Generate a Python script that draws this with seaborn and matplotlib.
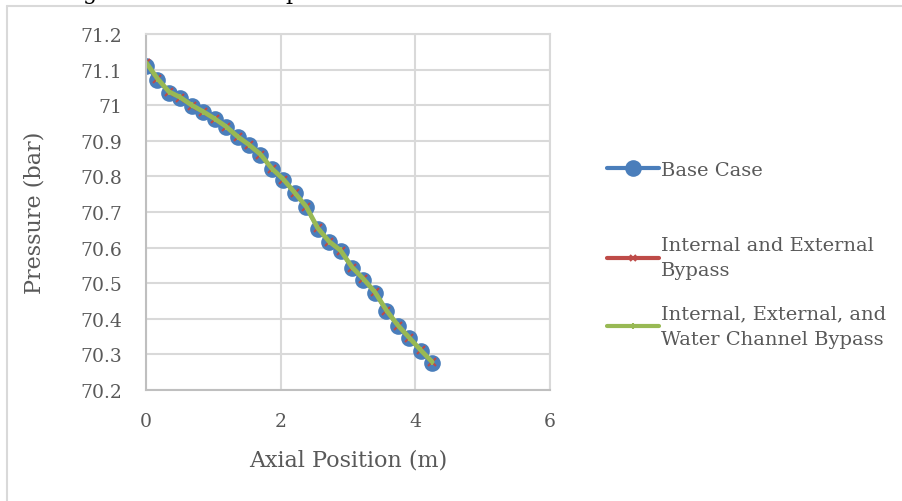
#!/usr/bin/env python3

import pandas as pd
import matplotlib
matplotlib.use("Agg")
import matplotlib.pyplot as plt
import seaborn as sns
from matplotlib.lines import Line2D
from matplotlib.ticker import FuncFormatter

# Axial positions (m)
axial_pos = [0.00, 0.17, 0.34, 0.51, 0.68, 0.85, 1.02, 1.19, 1.36, 1.53, 1.70, 1.87, 2.04,
             2.21, 2.38, 2.55, 2.72, 2.89, 3.06, 3.23, 3.40, 3.57, 3.74, 3.91, 4.08, 4.25]

# Pressure (bar)
base_case = [71.110, 71.071, 71.035, 71.020, 70.998, 70.980, 70.960, 70.938, 70.910,
             70.887, 70.860, 70.820, 70.790, 70.752, 70.713, 70.653, 70.615, 70.590,
             70.543, 70.510, 70.473, 70.422, 70.380, 70.345, 70.310, 70.277]
int_ext_bypass = [71.118, 71.074, 71.037, 71.021, 70.999, 70.981, 70.961, 70.939, 70.911,
                  70.888, 70.861, 70.821, 70.791, 70.753, 70.714, 70.654, 70.616, 70.591,
                  70.544, 70.511, 70.474, 70.423, 70.381, 70.346, 70.311, 70.278]
int_ext_water_bypass = [71.120, 71.075, 71.038, 71.022, 71.000, 70.982, 70.962, 70.940, 70.912,
                        70.889, 70.862, 70.822, 70.792, 70.754, 70.715, 70.655, 70.617, 70.592,
                        70.545, 70.512, 70.475, 70.424, 70.382, 70.347, 70.312, 70.279]

series_labels = ["Base Case", "Internal and External\nBypass",
                 "Internal, External, and\nWater Channel Bypass"]

x_ticks = [0, 2, 4, 6]
y_ticks = [70.2, 70.3, 70.4, 70.5, 70.6, 70.7, 70.8, 70.9, 71.0, 71.1, 71.2]

if __name__ == "__main__":

    sns.set_style("white")
    plt.rcParams["font.family"] = ["DejaVu Serif", "DejaVu Sans"]

    text_gray = "#595959"
    grid_gray = "#D9D9D9"
    colors = ["#4A7EBB", "#BE4B48", "#98B954"]

    df = pd.DataFrame({
        "x": axial_pos * 3,
        "y": base_case + int_ext_bypass + int_ext_water_bypass,
        "series": [series_labels[0]] * len(axial_pos)
        + [series_labels[1]] * len(axial_pos)
        + [series_labels[2]] * len(axial_pos),
    })

    fig = plt.figure(figsize=(9.02, 5.02), dpi=100)
    ax = fig.add_axes([146 / 902, 1 - 391 / 502, 404 / 902, 356 / 502])

    styles = [
        dict(marker="o", markersize=12, linewidth=2.4, markeredgewidth=0),
        dict(marker="x", markersize=5.5, linewidth=2.4, markeredgewidth=1.5),
        dict(marker="|", markersize=4, linewidth=3.4, markeredgewidth=1.5),
    ]
    for label, color, st in zip(series_labels, colors, styles):
        sub = df[df["series"] == label]
        sns.lineplot(data=sub, x="x", y="y", ax=ax, color=color, sort=False,
                     estimator=None, markeredgecolor=color, markerfacecolor=color,
                     legend=False, **st)

    ax.set_xlim(0, 6)
    ax.set_ylim(70.2, 71.2)
    ax.set_xticks(x_ticks)
    ax.set_yticks(y_ticks)
    ax.yaxis.set_major_formatter(FuncFormatter(lambda v, p: f"{v:g}"))
    ax.grid(True, color=grid_gray, linewidth=1.5)
    ax.set_axisbelow(True)
    for s in ax.spines.values():
        s.set_color(grid_gray)
        s.set_linewidth(1.5)
    ax.spines["left"].set_color("#BFBFBF")
    ax.spines["bottom"].set_color("#BFBFBF")
    ax.tick_params(length=0, labelsize=13.5, colors=text_gray, pad=16)
    ax.tick_params(axis="y", pad=17)

    ax.set_xlabel("Axial Position (m)", fontsize=16, color=text_gray, labelpad=13)
    ax.set_ylabel("Pressure (bar)", fontsize=16, color=text_gray, labelpad=25)

    handles = [
        Line2D([0], [0], color=colors[0], lw=3, marker="o", markersize=12, markeredgewidth=0),
        Line2D([0], [0], color=colors[1], lw=3, marker="x", markersize=5, markeredgewidth=1.5),
        Line2D([0], [0], color=colors[2], lw=3, marker="|", markersize=4, markeredgewidth=1.5),
    ]
    leg_kw = dict(loc="center left", bbox_transform=fig.transFigure, frameon=False,
                  fontsize=14, handlelength=2.7, handletextpad=0.1, borderpad=0)

    leg1 = ax.legend(handles=handles[:1], labels=series_labels[:1],
                     bbox_to_anchor=(597 / 902, 1 - 171 / 502), **leg_kw)
    for t in leg1.get_texts():
        t.set_color(text_gray)
    ax.add_artist(leg1)

    leg2 = ax.legend(handles=handles[1:], labels=series_labels[1:],
                     bbox_to_anchor=(597 / 902, 1 - 293 / 502), labelspacing=1.3, **leg_kw)
    for t in leg2.get_texts():
        t.set_color(text_gray)
        t.set_linespacing(1.5)

    # chart frame (left and top edges visible)
    fig.add_artist(Line2D([6.5 / 902, 6.5 / 902], [0, 1 - 7 / 502], transform=fig.transFigure,
                          color=grid_gray, lw=1.5))
    fig.add_artist(Line2D([6.5 / 902, 1], [1 - 7 / 502, 1 - 7 / 502], transform=fig.transFigure,
                          color=grid_gray, lw=1.5))

    # cut-off caption glyphs from the page above
    fig.text(90 / 902, 1 + 1 / 502, "g", fontsize=16, color="black", ha="center", va="baseline")
    fig.text(292 / 902, 1 + 1 / 502, "p", fontsize=16, color="black", ha="center", va="baseline")

    plt.savefig("out.png", dpi=100)
    plt.close()
